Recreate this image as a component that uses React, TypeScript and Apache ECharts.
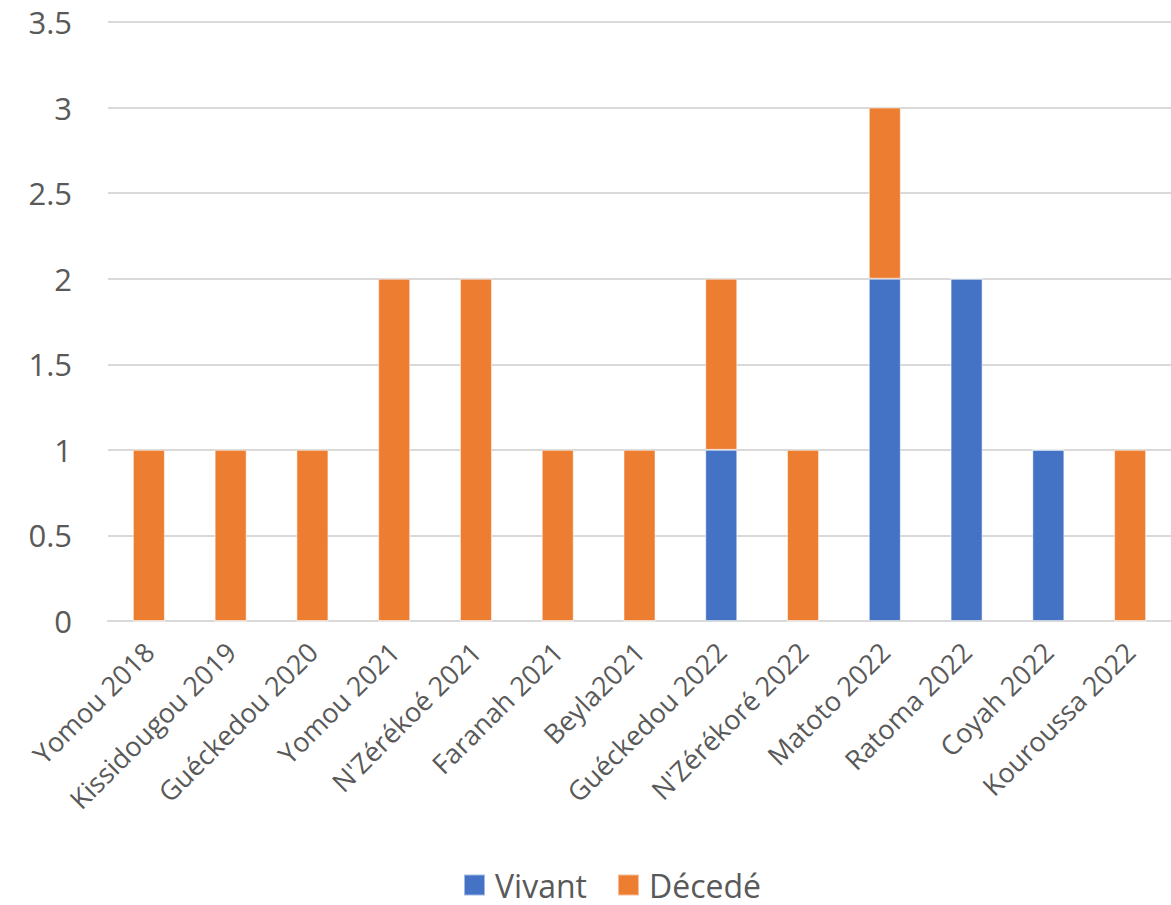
import React, { useEffect, useRef } from "react";
import * as echarts from "echarts";

const categories = [
  "Yomou 2018",
  "Kissidougou 2019",
  "Guéckedou 2020",
  "Yomou 2021",
  "N'Zérékoé 2021",
  "Faranah 2021",
  "Beyla2021",
  "Guéckedou 2022",
  "N'Zérékoré 2022",
  "Matoto 2022",
  "Ratoma 2022",
  "Coyah 2022",
  "Kouroussa 2022",
];
const vivant = [0, 0, 0, 0, 0, 0, 0, 1, 0, 2, 2, 1, 0];
const decede = [1, 1, 1, 2, 2, 1, 1, 1, 1, 1, 0, 0, 1];
const seriesNames = ["Vivant", "Décedé"];

export default function App() {
  const ref = useRef<HTMLDivElement>(null);
  useEffect(() => {
    document.body.style.margin = "0";
    const chart = echarts.init(ref.current!, undefined, { renderer: "svg" });
    const font = "'Open Sans', 'Noto Sans', sans-serif";
    chart.setOption({
      animation: false,
      textStyle: { fontFamily: font },
      grid: { left: 108, top: 22, width: 1066, bottom: 284, containLabel: false },
      legend: {
        data: seriesNames,
        left: 463,
        top: 866,
        padding: 0,
        itemWidth: 21,
        itemHeight: 21,
        itemGap: 30,
        icon: "rect",
        textStyle: {
          fontSize: 32,
          lineHeight: 38,
          color: "#595959",
          fontFamily: font,
          padding: [0, 0, 0, 5],
        },
      },
      xAxis: {
        type: "category",
        data: categories,
        axisLine: { lineStyle: { color: "#d9d9d9", width: 2 } },
        axisTick: { show: false },
        axisLabel: {
          rotate: 45,
          interval: 0,
          fontSize: 27,
          color: "#595959",
          margin: 26,
          fontFamily: font,
        },
      },
      yAxis: {
        type: "value",
        min: 0,
        max: 3.5,
        interval: 0.5,
        axisLine: { show: false },
        axisTick: { show: false },
        splitLine: { lineStyle: { color: "#d9d9d9", width: 2 } },
        axisLabel: { fontSize: 31, color: "#595959", margin: 36, fontFamily: font },
      },
      series: [
        {
          name: seriesNames[0],
          type: "bar",
          stack: "total",
          data: vivant,
          barWidth: 32,
          itemStyle: { color: "#4472C4", borderColor: "rgba(255,255,255,0.5)", borderWidth: 1 },
        },
        {
          name: seriesNames[1],
          type: "bar",
          stack: "total",
          data: decede,
          barWidth: 32,
          itemStyle: { color: "#ED7D31", borderColor: "rgba(255,255,255,0.5)", borderWidth: 1 },
        },
      ],
    });
    return () => chart.dispose();
  }, []);
  return (
    <div
      ref={ref}
      style={{ position: "absolute", left: 0, top: 0, width: 1171, height: 905, background: "#fff" }}
    />
  );
}
